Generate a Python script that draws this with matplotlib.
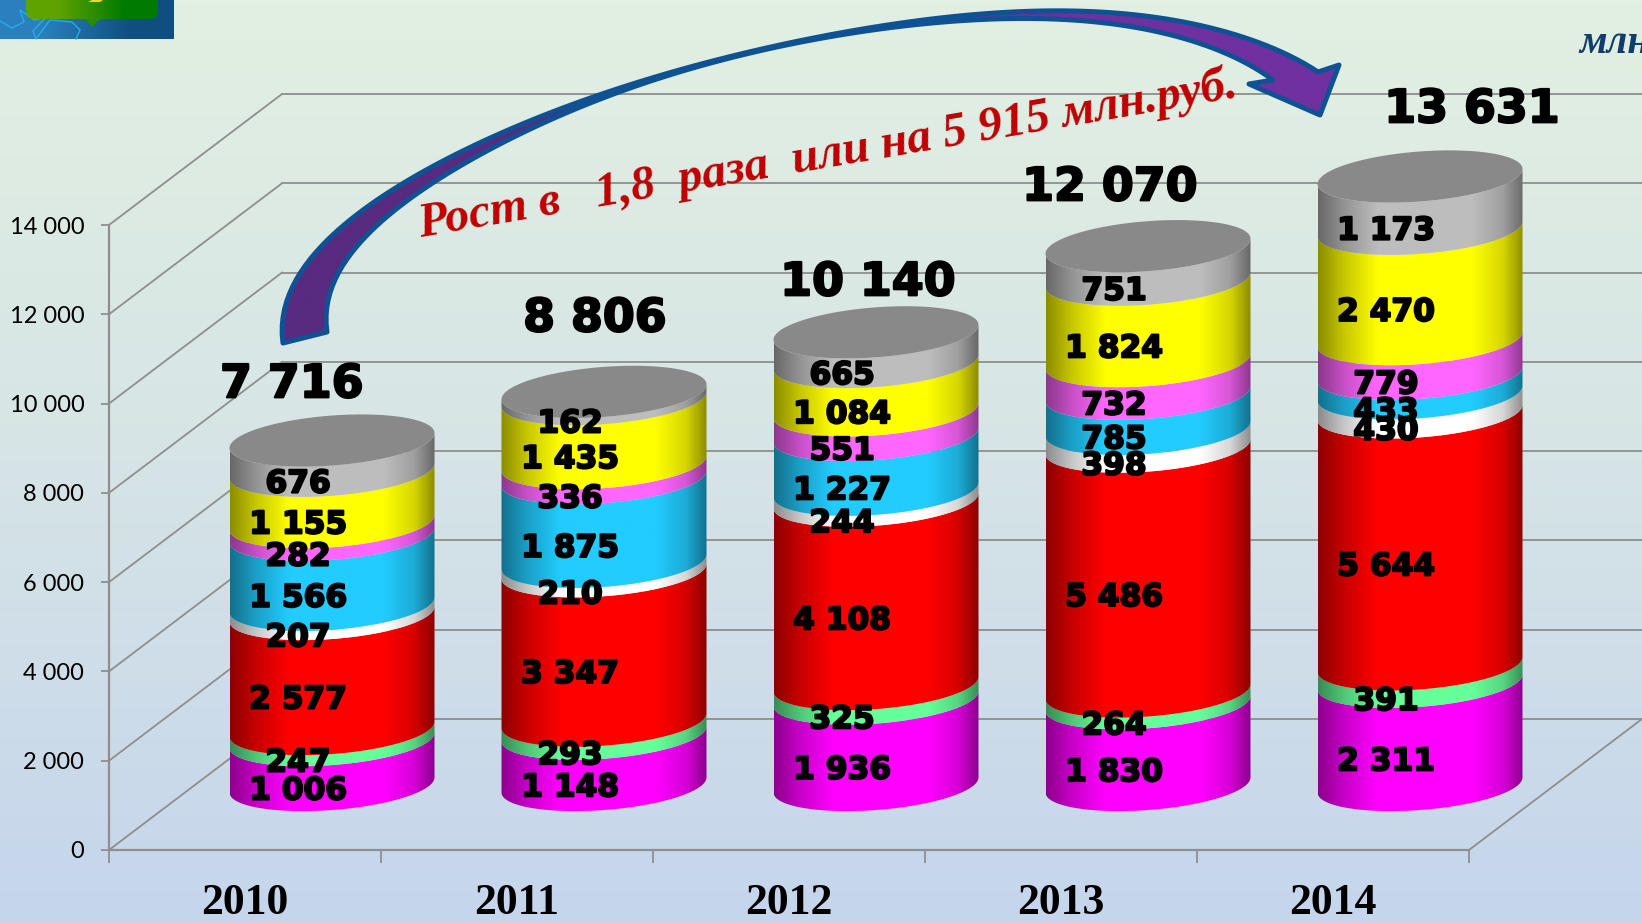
import numpy as np
import matplotlib
matplotlib.use("Agg")
import matplotlib.pyplot as plt
from matplotlib.colors import to_rgb, LinearSegmentedColormap
from matplotlib.patches import Polygon, FancyBboxPatch
import matplotlib.patheffects as pe

# ---------- data ----------
years = ["2010", "2011", "2012", "2013", "2014"]
y_ticks = [0, 2000, 4000, 6000, 8000, 10000, 12000, 14000]
y_tick_labels = ["0", "2 000", "4 000", "6 000", "8 000", "10 000", "12 000", "14 000"]
seg_magenta = [1006, 1148, 1936, 1830, 2311]
seg_green = [247, 293, 325, 264, 391]
seg_red = [2577, 3347, 4108, 5486, 5644]
seg_white = [207, 210, 244, 398, 430]
seg_cyan = [1566, 1875, 1227, 785, 433]
seg_pink = [282, 336, 551, 732, 779]
seg_yellow = [1155, 1435, 1084, 1824, 2470]
seg_gray = [676, 162, 665, 751, 1173]
totals = [7716, 8806, 10140, 12070, 13631]
seg_colors = ["#FF00FF", "#66FF99", "#FF0000", "#FFFFFF", "#22CCFF", "#FF66FF", "#FFFF00", "#BDBDBD"]
annotation = "Рост в   1,8  раза  или на 5 915 млн.руб."
unit_text = "млн"

# ---------- layout (pixels of the 1642x923 canvas) ----------
W, H = 1642, 923
AX_L, AX_R, AX_B, AX_T = 109, 1469, 850, 225
DEPTH_X, DEPTH_Y = 173, 131
total_pos = [(292, 380), (595, 314), (868, 278), (1110, 183), (1472, 105)]

fig = plt.figure(figsize=(W / 100, H / 100), dpi=100)

# background
bg = fig.add_axes([0, 0, 1, 1], zorder=0)
bg.axis("off")
cm = LinearSegmentedColormap.from_list("bg", ["#E2F0E2", "#D6E4E6", "#C5D5EC"])
bg.imshow(np.linspace(0, 1, 256)[:, None], cmap=cm, aspect="auto", extent=(0, W, H, 0))
bg.set_xlim(0, W)
bg.set_ylim(H, 0)

# chart axes: the front plane of the 3D box
ax = fig.add_axes([AX_L / W, (H - AX_B) / H, (AX_R - AX_L) / W, (AX_B - AX_T) / H], zorder=1)
ax.patch.set_alpha(0)
n = len(years)
px_x = (AX_R - AX_L) / n            # pixels per category
px_v = (AX_B - AX_T) / 14000        # pixels per value unit
GRID = "#8E8E8E"
LW = 1.3

ddx, ddy = DEPTH_X / px_x, DEPTH_Y / px_v
for v in y_ticks:
    ax.plot([0, ddx], [v, v + ddy], color=GRID, lw=LW, clip_on=False, zorder=1)
    ax.plot([ddx, 5 + ddx], [v + ddy, v + ddy], color=GRID, lw=LW, clip_on=False, zorder=1)
ax.plot([5, 5 + ddx], [0, ddy], color=GRID, lw=LW, clip_on=False, zorder=1)

for s in ("top", "right"):
    ax.spines[s].set_visible(False)
for s in ("left", "bottom"):
    ax.spines[s].set_color(GRID)
    ax.spines[s].set_linewidth(LW + 0.3)
ax.set_yticks(y_ticks)
ax.set_yticklabels(y_tick_labels, family="Lato", fontsize=17, color="black")
ax.tick_params(axis="y", length=5.8, width=LW, color=GRID, pad=12)
ax.set_xticks(np.arange(n + 1))
ax.set_xticklabels([])
ax.set_xticks(np.arange(n) + 0.5, minor=True)
ax.set_xticklabels(years, minor=True, family="Liberation Serif", weight="bold", fontsize=31.5)
ax.tick_params(axis="x", which="minor", length=0, pad=23.8)
ax.tick_params(axis="x", which="major", length=9, width=LW, color=GRID)

# cylinders
A = 102.5 / px_x   # half width
B = 25 / px_v      # half height of ellipse
S = 7.5 / px_v     # skew of ellipse
CX_OFF = 0.5 + 87 / px_x
CY_OFF = 65 / px_v
LABEL_DX = -34 / px_x
t_front = np.linspace(np.pi, 0, 80)


def shade(color, k_l=0.55, k_r=0.55):
    u = np.linspace(-1, 1, 220)
    f = np.interp(u, [-1, -0.75, -0.42, 0.5, 0.8, 1], [k_l, 0.78, 1, 1, 0.84, k_r])
    return np.clip(np.outer(f, to_rgb(color)), 0, 1)[None, :, :]


def gradient_patch(target, verts, rgb, extent, z):
    poly = Polygon(verts, closed=True, transform=target.transData, fc="none", ec="none")
    target.add_patch(poly)
    im = target.imshow(rgb, extent=extent, aspect="auto", zorder=z, interpolation="bilinear")
    im.set_clip_box(fig.bbox)
    im.set_clip_path(poly)
    return im


series = [seg_magenta, seg_green, seg_red, seg_white, seg_cyan, seg_pink, seg_yellow, seg_gray]
for i in range(n):
    cx = i + CX_OFF
    base = 0
    for values, col in zip(series, seg_colors):
        v0 = base + CY_OFF
        v1 = base + values[i] + CY_OFF
        xs = cx + A * np.cos(t_front)
        lower = v0 + S * np.cos(t_front) - B * np.sin(t_front)
        upper = v1 + S * np.cos(t_front) - B * np.sin(t_front)
        verts = np.vstack([np.column_stack([xs, lower]), np.column_stack([xs, upper])[::-1]])
        gradient_patch(ax, verts, shade(col), (cx - A, cx + A, 0, 16000), 3)
        base += values[i]
    # top cap
    tt = np.linspace(0, 2 * np.pi, 160)
    cap = np.column_stack([cx + A * np.cos(tt),
                           base + CY_OFF + S * np.cos(tt) - B * np.sin(tt)])
    ax.add_patch(Polygon(cap, closed=True, fc="#898989", ec="none", zorder=4, clip_on=False))

ax.set_xlim(0, n)
ax.set_ylim(0, 14000)

# data labels
stroke = [pe.withStroke(linewidth=1.5, foreground="black")]
for i in range(n):
    base = 0
    for values in series:
        mid = base + values[i] / 2 + CY_OFF - B
        txt = f"{values[i]:,}".replace(",", " ")
        ax.annotate(txt, xy=(i + CX_OFF + LABEL_DX, mid), xytext=(0, -8.6), textcoords="offset points",
                    ha="center", va="baseline", family="DejaVu Sans", weight="bold",
                    fontsize=22.5, color="black", path_effects=stroke, zorder=6,
                    annotation_clip=False)
        base += values[i]

# overlay in canvas pixels
ov = fig.add_axes([0, 0, 1, 1], zorder=2)
ov.axis("off")
ov.patch.set_alpha(0)


def smooth(points, deg=7, m=140):
    p = np.array(points, float)
    d = np.r_[0, np.cumsum(np.hypot(*np.diff(p, axis=0).T))]
    d = d / d[-1]
    w = np.ones(len(p))
    w[[0, -1]] = 6
    fx = np.polyfit(d, p[:, 0], deg, w=w)
    fy = np.polyfit(d, p[:, 1], deg, w=w)
    s = np.linspace(0, 1, m)
    return np.column_stack([np.polyval(fx, s), np.polyval(fy, s)])


outer = [(283, 343), (280, 325), (286, 300), (300, 276), (340, 228), (400, 185), (500, 135),
         (600, 93), (700, 65), (830, 35), (930, 19), (1057, 11), (1163, 18), (1250, 40), (1318, 72)]
inner = [(1273, 80), (1235, 60), (1163, 30), (1057, 22), (930, 21), (830, 37), (700, 68),
         (600, 97), (500, 144), (400, 208), (367, 235), (340, 268), (327, 300), (326, 320), (327, 332)]
head = [(1339, 65), (1320, 115), (1249, 84)]
arrow = np.vstack([smooth(outer), head, smooth(inner)])
cmap_a = np.array([to_rgb("#582A80"), to_rgb("#7030A0")])[None, :, :]
poly = Polygon(arrow, closed=True, fc="none", ec="none", transform=ov.transData)
ov.add_patch(poly)
im = ov.imshow(cmap_a, extent=(278, 1340, 0, 400), aspect="auto", interpolation="bilinear", zorder=2)
im.set_clip_path(poly)
ov.add_patch(Polygon(arrow, closed=True, fc="none", ec="#0F5293", lw=3.6, joinstyle="round", zorder=3))

ov.text(420, 237, annotation, family="Liberation Serif", weight="bold", style="italic",
        fontsize=34.7, color="#C00000", rotation=9.7, rotation_mode="anchor",
        ha="left", va="baseline", zorder=5)
ov.text(1579, 53, unit_text, family="Liberation Serif", weight="bold", style="italic",
        fontsize=29, color="#0F3D6E", ha="left", va="baseline", zorder=5)

stroke_t = [pe.withStroke(linewidth=1.5, foreground="black")]
for (x, y), tot in zip(total_pos, totals):
    ov.annotate(f"{tot:,}".replace(",", " "), xy=(x, y), xytext=(0, -12.5), textcoords="offset points",
                ha="center", va="baseline", family="DejaVu Sans", weight="bold", fontsize=33,
                color="black", path_effects=stroke_t, zorder=5)

# logo fragment
ov.imshow(np.array([to_rgb("#2B7FBE"), to_rgb("#0F4F7F")])[None, :, :], extent=(0, 174, 39, 0),
          aspect="auto", interpolation="bilinear", zorder=2)
ov.plot([0, 12, 24, 20, 34, 46, 33, 36, 50, 72, 80, 76], [21, 28, 22, 10, 20, 17, 31, 39, 20, 22, 30, 39],
        color="#23AEEA", lw=1, zorder=3)
box = FancyBboxPatch((30, -20), 124, 35, boxstyle="round,pad=4,rounding_size=8",
                     fc="none", ec="none", transform=ov.transData)
ov.add_patch(box)
gim = ov.imshow(np.array([to_rgb("#5FA300"), to_rgb("#007A00")])[None, :, :], extent=(26, 158, 30, -20),
                aspect="auto", interpolation="bilinear", zorder=4)
gim.set_clip_path(box)
ov.add_patch(Polygon([(85, 19), (100, 19), (92, 27)], closed=True, fc="#2C8A00", ec="none", zorder=4))
ov.add_patch(Polygon([(88, 2), (92, 0), (103, 0), (100, 2)], closed=True, fc="#F7D71C", ec="none", zorder=5))

ov.set_xlim(0, W)
ov.set_ylim(H, 0)

fig.savefig("out.png", dpi=100)
